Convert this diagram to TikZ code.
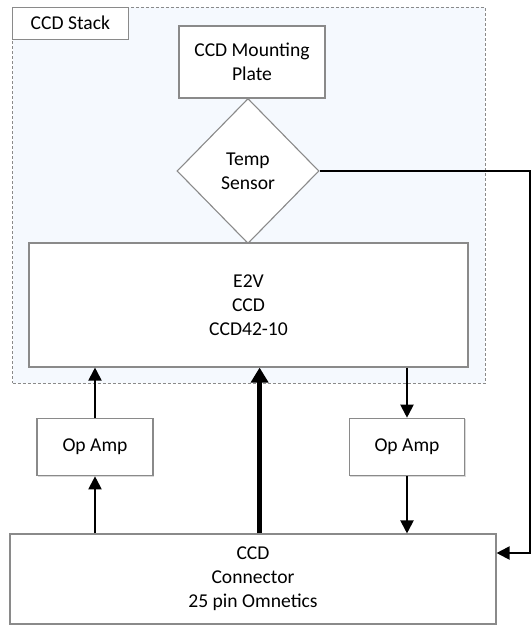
\documentclass[tikz,border=0pt]{standalone}
\usepackage{fontspec}
\setmainfont{Carlito}
\usetikzlibrary{shapes.geometric,arrows.meta,shadows}
\definecolor{stackfill}{HTML}{F5F9FE}
\definecolor{edgegray}{HTML}{8A8A8A}
\tikzset{
  box/.style={draw=edgegray, line width=1.1pt, fill=white, align=center, inner sep=0pt,
    drop shadow={shadow xshift=1.2pt, shadow yshift=-1.2pt, opacity=0.15, fill=black}},
  stackbox/.style={draw=edgegray, line width=0.9pt, dash pattern=on 3pt off 2pt, fill=stackfill, inner sep=0pt},
  sensor/.style={diamond, draw=edgegray, line width=1.1pt, fill=white, align=center, inner sep=0pt,
    minimum width=142pt, minimum height=145pt},
  sig/.style={line width=2pt, -{Triangle[width=13pt,length=13pt]}},
  bus/.style={line width=4.5pt, -{Triangle[width=17pt,length=15pt]}},
}
\begin{document}
\begin{tikzpicture}[x=1pt,y=-1pt, font=\fontsize{19.6pt}{24pt}\selectfont]
\useasboundingbox (0,0) rectangle (532,627);
\node[stackbox, minimum width=472.5pt, minimum height=376pt] (stack) at (248.75,195) {};
\node[box, anchor=north west, minimum width=115.5pt, minimum height=32pt, drop shadow={opacity=0}] (label) at (stack.north west) {CCD Stack};
\node[box, minimum width=146pt, minimum height=72pt] (plate) at (252,62) {CCD Mounting\\Plate};
\node[sensor] (temp) at (248,171) {Temp\\Sensor};
\node[box, minimum width=439pt, minimum height=124pt] (ccd) at (248.5,305) {E2V\\CCD\\CCD42-10};
\node[box, minimum width=116pt, minimum height=57.5pt] (opl) at (95,447) {Op Amp};
\node[box, minimum width=115.5pt, minimum height=57.5pt] (opr) at (407,447) {Op Amp};
\node[box, minimum width=486pt, minimum height=90pt] (conn) at (253,579) {CCD\\Connector\\25 pin Omnetics};
\coordinate (xl) at (95,0);
\coordinate (xm) at (259.6,0);
\coordinate (xr) at (407,0);
\coordinate (xw) at (530,0);
\coordinate (yw) at (0,553);
\draw[sig] (xl |- conn.north) -- (opl.south);
\draw[sig] (opl.north) -- (xl |- ccd.south);
\draw[bus] (xm |- conn.north) -- (xm |- ccd.south);
\draw[sig] (xr |- ccd.south) -- (opr.north);
\draw[sig] (opr.south) -- (xr |- conn.north);
\draw[sig] (temp.east) -- (xw |- temp.east) -- (xw |- yw) -- (conn.east |- yw);
\end{tikzpicture}
\end{document}
